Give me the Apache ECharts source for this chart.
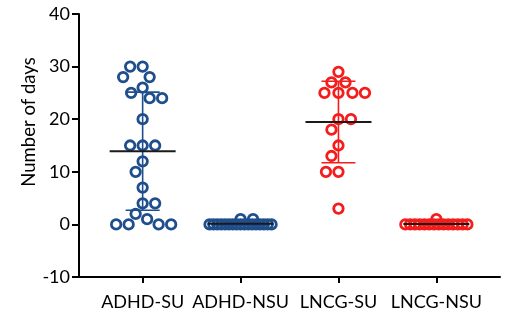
<!DOCTYPE html>
<html>
<head>
<meta charset="utf-8">
<script src="https://cdn.jsdelivr.net/npm/echarts@6/dist/echarts.min.js"></script>
<style>html,body{margin:0;padding:0;background:#fff}#c{width:506px;height:321px}</style>
</head>
<body>
<div id="c"></div>
<script>
// ---- data ----
const categories = ['ADHD-SU', 'ADHD-NSU', 'LNCG-SU', 'LNCG-NSU'];
const adhdSU = [30, 30, 28, 28, 26, 25, 24, 24, 20, 15, 15, 15, 12, 10, 7, 4, 4, 2, 1, 0, 0, 0, 0];
const adhdNSU = [1, 1, 0, 0, 0, 0, 0, 0, 0, 0, 0, 0, 0, 0, 0, 0, 0, 0, 0];
const lncgSU = [29, 27, 27, 25, 25, 25, 25, 20, 20, 18, 15, 13, 10, 10, 3];
const lncgNSU = [1, 0, 0, 0, 0, 0, 0, 0, 0, 0, 0, 0, 0, 0, 0];
const yTicks = [-10, 0, 10, 20, 30, 40];
const yTitle = 'Number of days';

const groups = [adhdSU, adhdNSU, lncgSU, lncgNSU];
const colors = ['#1f4e8c', '#1f4e8c', '#f51c1c', '#f51c1c'];

// ---- layout ----
const W = 506, H = 321;
const grid = {left: 79, right: 6, top: 14, bottom: 44};
const xMin = -0.65, xMax = 3.65;
const yMin = -10, yMax = 40;
const pxX = (W - grid.left - grid.right) / (xMax - xMin);
const pxY = (H - grid.top - grid.bottom) / (yMax - yMin);
const D = 12.5;     // swarm spacing in px
const halfW = 31;   // max swarm half width px

function mean(a) { return a.reduce((s, v) => s + v, 0) / a.length; }
function sd(a) { const m = mean(a); return Math.sqrt(a.reduce((s, v) => s + (v - m) * (v - m), 0) / (a.length - 1)); }

// simple beeswarm: returns x offsets (px) for each value
function swarm(values) {
  const counts = {};
  values.forEach(v => counts[v] = (counts[v] || 0) + 1);
  const placed = [];
  const offs = new Array(values.length);
  Object.keys(counts).forEach(k => {
    const n = counts[k];
    if (n * D > 2 * halfW) {
      let i = 0;
      values.forEach((v, idx) => {
        if (String(v) === k) {
          const o = -halfW + i * (2 * halfW) / (n - 1);
          offs[idx] = o; placed.push({x: o, y: v * pxY, dense: true}); i++;
        }
      });
    }
  });
  const order = values.map((v, i) => i).filter(i => offs[i] === undefined)
    .sort((a, b) => values[b] - values[a]);
  order.forEach((idx, j) => {
    const y = values[idx] * pxY;
    const sign = j % 2 === 0 ? 1 : -1;
    const ok = (o, ignoreDense) => placed.every(p => (ignoreDense && p.dense) || Math.hypot(p.x - o, p.y - y) >= D - 0.01);
    let chosen = null;
    for (let s = 0; s <= halfW && chosen === null; s += 0.5) {
      for (const o of [sign * s, -sign * s]) { if (ok(o, false)) { chosen = o; break; } }
    }
    for (let s = 0; s <= 3 * halfW && chosen === null; s += 0.5) {
      for (const o of [-sign * s, sign * s]) { if (ok(o, true)) { chosen = o; break; } }
    }
    if (chosen === null) chosen = 0;
    offs[idx] = chosen; placed.push({x: chosen, y: y, dense: false});
  });
  return offs;
}

const scatterSeries = groups.map((vals, gi) => {
  const offs = swarm(vals);
  return {
    type: 'scatter',
    symbol: 'circle',
    symbolSize: 9.5,
    itemStyle: {color: 'rgba(0,0,0,0)', borderColor: colors[gi], borderWidth: 2.8, opacity: 1},
    emphasis: {disabled: true},
    z: 2,
    data: vals.map((v, i) => [gi + offs[i] / pxX, v])
  };
});

const statData = groups.map((vals, gi) => [gi, mean(vals), sd(vals), gi]);

const errSeries = {
  type: 'custom',
  z: 5,
  silent: true,
  data: statData,
  renderItem: function (params, api) {
    const x = api.value(0), m = api.value(1), s = api.value(2);
    const col = colors[api.value(3)];
    const t = api.coord([x, m + s]);
    const b = api.coord([x, m - s]);
    const c = api.coord([x, m]);
    const cap = 17, mh = 33;
    const ls = {stroke: col, lineWidth: 1.6};
    return {
      type: 'group',
      children: [
        {type: 'line', shape: {x1: t[0], y1: t[1], x2: b[0], y2: b[1]}, style: ls},
        {type: 'line', shape: {x1: t[0] - cap, y1: t[1], x2: t[0] + cap, y2: t[1]}, style: ls},
        {type: 'line', shape: {x1: b[0] - cap, y1: b[1], x2: b[0] + cap, y2: b[1]}, style: ls},
        {type: 'line', shape: {x1: c[0] - mh, y1: c[1], x2: c[0] + mh, y2: c[1]}, style: {stroke: '#1a1a1a', lineWidth: 2}}
      ]
    };
  }
};

const font = 'Lato, "Open Sans", sans-serif';
const chart = echarts.init(document.getElementById('c'), null, {renderer: 'canvas'});
chart.setOption({
  animation: false,
  backgroundColor: '#fff',
  grid: grid,
  graphic: [{
    type: 'text', x: 29, y: 122, rotation: Math.PI / 2,
    style: {text: yTitle, fontSize: 18.5, fontFamily: font, fill: '#000', align: 'center', verticalAlign: 'middle'}
  }],
  xAxis: {
    type: 'value', min: xMin, max: xMax,
    axisLine: {onZero: false, lineStyle: {color: '#000', width: 2}},
    axisTick: {show: true, customValues: [0, 1, 2, 3], length: 6, lineStyle: {color: '#000', width: 2}},
    axisLabel: {customValues: [0, 1, 2, 3], formatter: v => categories[Math.round(v)], color: '#000',
      fontSize: 18, fontFamily: font, margin: 16},
    splitLine: {show: false}
  },
  yAxis: {
    type: 'value', min: yMin, max: yMax, interval: 10,
    axisLine: {show: true, onZero: false, lineStyle: {color: '#000', width: 2}},
    axisTick: {show: true, length: 7, lineStyle: {color: '#000', width: 2}},
    axisLabel: {color: '#000', fontSize: 18, fontFamily: font, margin: 9,
      formatter: v => yTicks.includes(v) ? String(v) : ''},
    splitLine: {show: false}
  },
  series: scatterSeries.concat([errSeries])
});
</script>
</body>
</html>
